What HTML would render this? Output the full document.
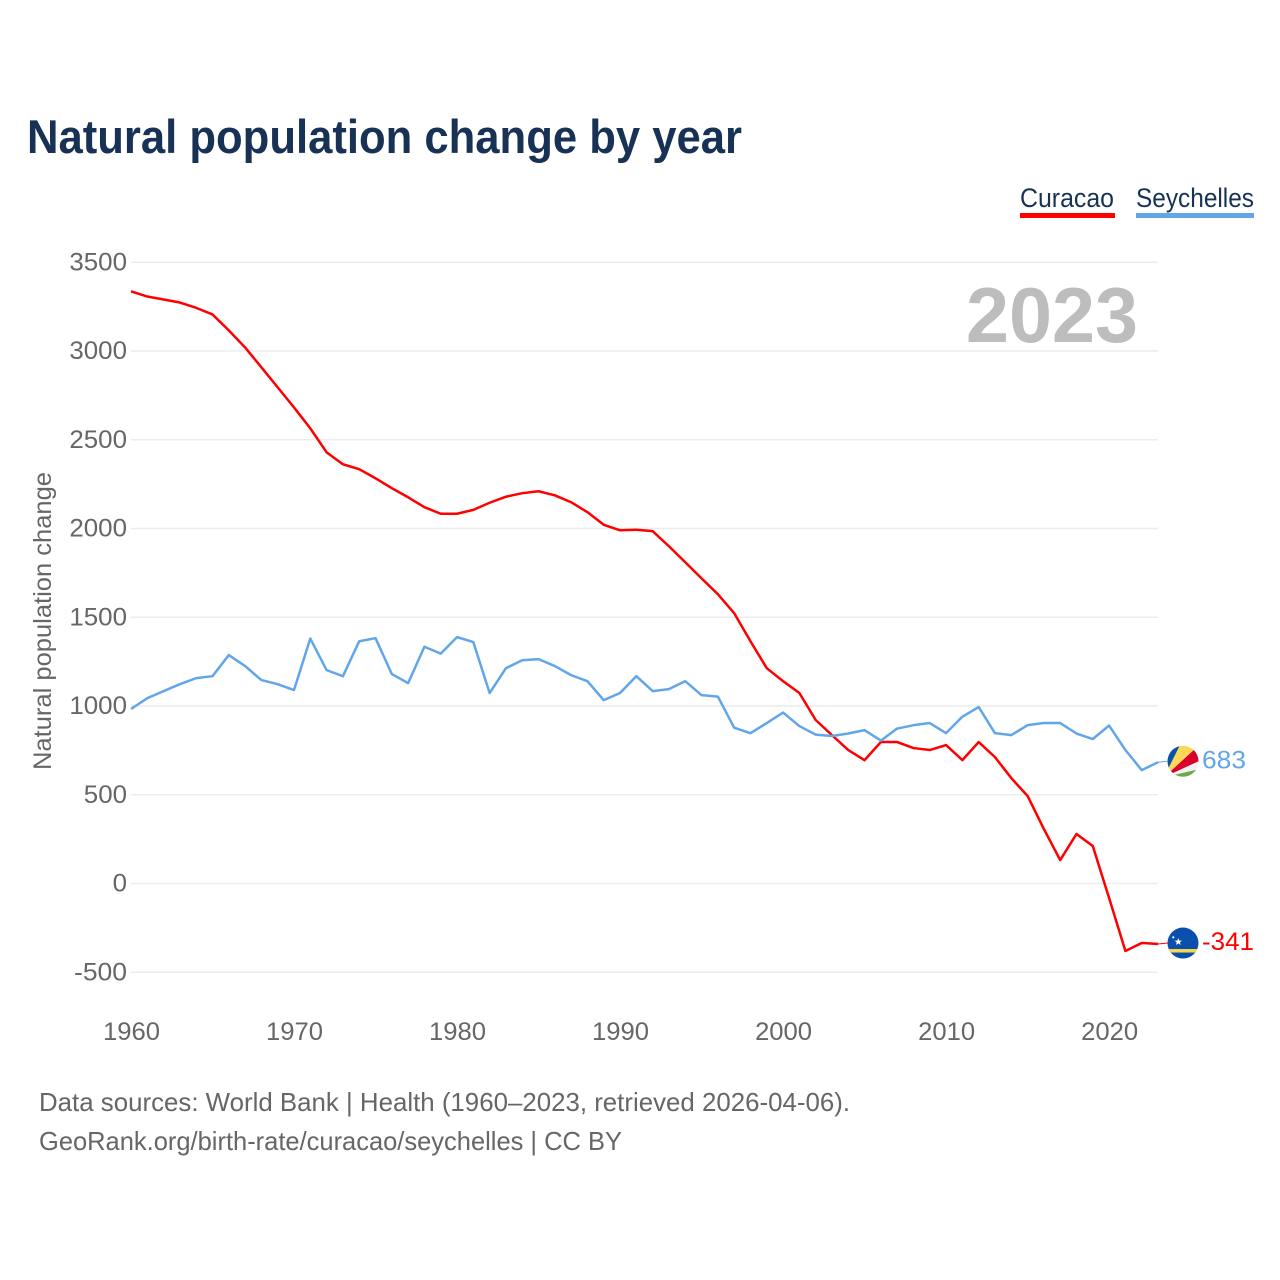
<!DOCTYPE html>
<html lang="en">
<head>
<meta charset="utf-8">
<title>Natural population change by year</title>
<style>
html,body{margin:0;padding:0;background:#fff;width:1280px;height:1280px;overflow:hidden}
svg{display:block;font-family:"Liberation Sans",sans-serif}
</style>
</head>
<body>
<svg id="chart" width="1280" height="1280" viewBox="0 0 1280 1280" xmlns="http://www.w3.org/2000/svg">
  <defs>
    <clipPath id="flag-clip-a"><circle cx="0" cy="0" r="15.5"/></clipPath>
    <clipPath id="flag-clip-b"><circle cx="0" cy="0" r="15.5"/></clipPath>
  </defs>
  <rect width="1280" height="1280" fill="#fff"/>
  <text x="27" y="153" font-size="47" font-weight="700" fill="#173254" textLength="715" lengthAdjust="spacingAndGlyphs">Natural population change by year</text>

  <g>
    <g>
      <text x="1020" y="207" font-size="27" fill="#173254" textLength="94" lengthAdjust="spacingAndGlyphs">Curacao</text>
      <rect x="1020" y="213" width="95" height="5" fill="#ff0000"/>
    </g>
    <g>
      <text x="1136" y="207" font-size="27" fill="#173254" textLength="118" lengthAdjust="spacingAndGlyphs">Seychelles</text>
      <rect x="1136" y="213" width="118" height="5" fill="#62a6ea"/>
    </g>
  </g>

  <g id="grid"></g>
  <text x="1138" y="342" font-size="78" font-weight="700" fill="#bdbdbd" text-anchor="end" textLength="172" lengthAdjust="spacingAndGlyphs">2023</text>
  <g id="y-ticks"></g>
  <g id="x-ticks"></g>
  <text transform="translate(51,770) rotate(-90)" font-size="25" fill="#666" textLength="298" lengthAdjust="spacingAndGlyphs">Natural population change</text>
  <g id="series"></g>

  <g id="end-seychelles">
    <g clip-path="url(#flag-clip-a)">
      <rect x="-16" y="-16" width="32" height="32" fill="#f2f2f2"/>
      <polygon points="-19,16 -20,-16 -3,-16" fill="#0a51a8"/>
      <polygon points="-19,16 -3,-16 16,-16" fill="#fcd856"/>
      <polygon points="-19,16 16,-16 20,-16 20,-2" fill="#d9002c"/>
      <polygon points="-19,16 20,-2 20,7" fill="#f2f2f2"/>
      <polygon points="-19,16 20,7 20,16" fill="#6fa84a"/>
    </g>
  </g>
  <g id="end-curacao">
    <g clip-path="url(#flag-clip-b)">
      <rect x="-16" y="-16" width="32" height="32" fill="#0a4fae"/>
      <rect x="-16" y="6" width="32" height="3.5" fill="#f9d948"/>
      <polygon points="-4.7,-5 -3.7,-2.4 -1,-2.4 -3.1,-0.7 -2.4,2 -4.7,0.4 -7,2 -6.3,-0.7 -8.4,-2.4 -5.7,-2.4" fill="#fff"/>
      <circle cx="-9.7" cy="-5.7" r="1.1" fill="#fff"/>
    </g>
  </g>
</svg>
<script>
const years = [1960,1961,1962,1963,1964,1965,1966,1967,1968,1969,1970,1971,1972,1973,1974,1975,1976,1977,1978,1979,1980,1981,1982,1983,1984,1985,1986,1987,1988,1989,1990,1991,1992,1993,1994,1995,1996,1997,1998,1999,2000,2001,2002,2003,2004,2005,2006,2007,2008,2009,2010,2011,2012,2013,2014,2015,2016,2017,2018,2019,2020,2021,2022,2023];
const curacaoValues = [3336,3307,3290,3273,3243,3206,3116,3020,2908,2795,2682,2564,2429,2362,2334,2283,2227,2176,2120,2083,2083,2105,2145,2179,2199,2210,2187,2148,2092,2021,1990,1993,1985,1900,1810,1719,1630,1523,1365,1213,1140,1073,921,836,752,695,797,797,763,752,780,695,797,712,594,493,307,132,279,211,-82,-380,-335,-341];
const seychellesValues = [983,1044,1084,1123,1157,1168,1287,1225,1146,1123,1090,1380,1202,1168,1365,1382,1180,1129,1334,1295,1388,1360,1073,1213,1258,1264,1225,1174,1140,1033,1073,1168,1084,1095,1140,1061,1053,878,847,904,963,887,839,831,845,864,805,873,892,904,847,940,994,847,836,892,904,904,845,814,890,752,639,683];
const yTicks = [3500,3000,2500,2000,1500,1000,500,0,-500];
const xTicks = [1960,1970,1980,1990,2000,2010,2020];

const NS = 'http://www.w3.org/2000/svg';
function xScale(year){ return 131 + (year - 1960) * (1158 - 131) / 63; }
function yScale(value){ return 883.5 - value * (972 - 262) / 4000; }
function make(tag, attrs, parent){
  const el = document.createElementNS(NS, tag);
  for (const k in attrs) el.setAttribute(k, attrs[k]);
  parent.appendChild(el);
  return el;
}

const grid = document.getElementById('grid');
const yGroup = document.getElementById('y-ticks');
const xGroup = document.getElementById('x-ticks');
const seriesGroup = document.getElementById('series');

yTicks.forEach(function(t){
  const line = make('line', {x1:131, x2:1158, y1:yScale(t), y2:yScale(t), stroke:'#ececec', 'stroke-width':1.5}, grid);
  
  
  const label = make('text', {x:127, y:yScale(t)+8, 'font-size':25, fill:'#666', 'text-anchor':'end'}, yGroup);
  
  
  label.setAttribute('textLength', String(Math.abs(t)).length * 14.4 + (t < 0 ? 9.8 : 0));
  label.setAttribute('lengthAdjust', 'spacingAndGlyphs');
  label.textContent = t;
});

xTicks.forEach(function(t){
  const label = make('text', {x:xScale(t)+0.5, y:1040, 'font-size':25, fill:'#666', 'text-anchor':'middle'}, xGroup);
  
  
  label.setAttribute('textLength', 57);
  label.setAttribute('lengthAdjust', 'spacingAndGlyphs');
  label.textContent = t;
});

function pathFor(values){
  return values.map(function(v, i){
    return (i ? 'L' : 'M') + xScale(years[i]).toFixed(2) + ' ' + yScale(v).toFixed(2);
  }).join(' ');
}

const curacaoLine = make('path', {d:pathFor(curacaoValues), fill:'none', stroke:'#ff0000', 'stroke-width':2.5, 'stroke-linejoin':'round'}, seriesGroup);


const seychellesLine = make('path', {d:pathFor(seychellesValues), fill:'none', stroke:'#62a6ea', 'stroke-width':2.5, 'stroke-linejoin':'round'}, seriesGroup);



function placeEnd(groupId, values, color, width, flagOffset){
  const group = document.getElementById(groupId);
  const last = values[values.length - 1];
  const y = yScale(last);
  const cy = y + flagOffset;
  const flag = group.firstElementChild;
  flag.setAttribute('transform', 'translate(1183,' + cy + ')');
  const leader = make('line', {x1:1158, x2:1168, y1:y, y2:cy, stroke:color, 'stroke-width':1}, group);
  
  
  const label = make('text', {x:1202, y:cy + 7, 'font-size':25, fill:color}, group);
  
  
  label.setAttribute('textLength', width);
  label.setAttribute('lengthAdjust', 'spacingAndGlyphs');
  label.textContent = last;
}
placeEnd('end-seychelles', seychellesValues, '#62a6ea', 44, -1);
placeEnd('end-curacao', curacaoValues, '#ff0000', 52, -1);

const svg = document.getElementById('chart');
const foot1 = make('text', {x:39, y:1111, 'font-size':26, fill:'#666', textLength:811, lengthAdjust:'spacingAndGlyphs'}, svg);


foot1.textContent = 'Data sources: World Bank | Health (1960–2023, retrieved 2026-04-06).';
const foot2 = make('text', {x:39, y:1150, 'font-size':26, fill:'#666', textLength:583, lengthAdjust:'spacingAndGlyphs'}, svg);


foot2.textContent = 'GeoRank.org/birth-rate/curacao/seychelles | CC BY';
</script>
</body>
</html>
